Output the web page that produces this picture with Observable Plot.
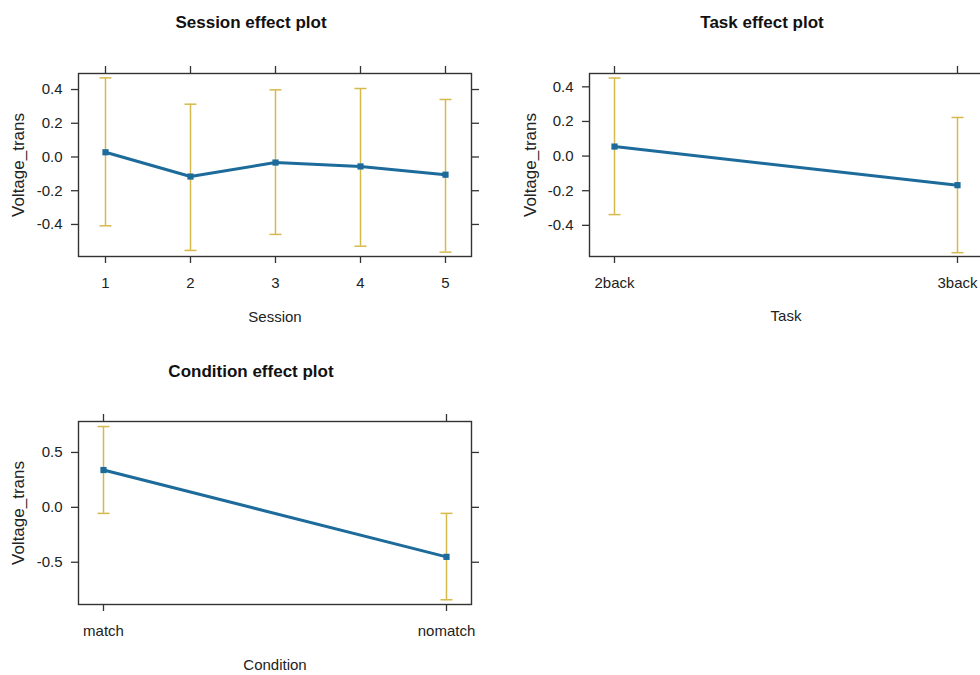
<!DOCTYPE html>
<html>
<head>
<meta charset="utf-8">
<script src="https://cdn.jsdelivr.net/npm/d3@7"></script>
<script src="https://cdn.jsdelivr.net/npm/@observablehq/plot@0.6"></script>
<style>
  html, body { margin: 0; padding: 0; overflow: hidden; background: #fff; }
  #root { position: relative; width: 980px; height: 675px; overflow: hidden; background: #fff;
          font-family: "Liberation Sans", Arial, sans-serif; color: #222; }
  .title { position: absolute; transform: translate(-50%, -50%); font-weight: bold; font-size: 17px;
           white-space: nowrap; color: #111; }
  .panel { position: absolute; }
</style>
</head>
<body>
<div id="root"></div>
<script>
// Effect estimates with lower/upper confidence limits, per factor
const sessionLevels = ["1", "2", "3", "4", "5"];
const sessionEst    = [0.028, -0.116, -0.033, -0.056, -0.105];
const sessionLower  = [-0.408, -0.554, -0.459, -0.529, -0.564];
const sessionUpper  = [0.469, 0.313, 0.398, 0.406, 0.341];

const taskLevels = ["2back", "3back"];
const taskEst    = [0.055, -0.168];
const taskLower  = [-0.338, -0.558];
const taskUpper  = [0.451, 0.223];

const conditionLevels = ["match", "nomatch"];
const conditionEst    = [0.34, -0.451];
const conditionLower  = [-0.055, -0.842];
const conditionUpper  = [0.736, -0.055];

const sessionTicks   = [-0.4, -0.2, 0, 0.2, 0.4];
const taskTicks      = [-0.4, -0.2, 0, 0.2, 0.4];
const conditionTicks = [-0.5, 0, 0.5];

const lineColor = "#1d6b9b";
const ciColor = "#d6b94c";
const frameColor = "#333";
const fontFamily = "'Liberation Sans', Arial, sans-serif";

// horizontal bar used as the cap of each confidence interval
const capSymbol = {
  draw(ctx, size) {
    const w = Math.sqrt(size / Math.PI);
    ctx.moveTo(-w, 0);
    ctx.lineTo(w, 0);
  }
};

const fmt = d => d.toFixed(1);
const blank = () => "";

function effectPanel({levels, est, lower, upper, yDomain, yTicks, xLabel,
                      width, height, margins, xLabelDy, yLabelDx}) {
  const rows = levels.map((level, i) => ({level, est: est[i], lo: lower[i], hi: upper[i]}));
  const tickStyle = {stroke: frameColor, strokeWidth: 1.3, label: null, fontSize: 15, fill: "#222"};
  return Plot.plot({
    width, height,
    ...margins,
    style: {fontFamily, fontSize: "15px", color: "#222", background: "transparent"},
    x: {type: "point", domain: levels, padding: 0, inset: 25},
    y: {domain: yDomain},
    marks: [
      Plot.frame({stroke: frameColor, strokeWidth: 1.4}),
      Plot.axisY({...tickStyle, anchor: "left", ticks: yTicks, tickFormat: fmt, tickSize: 7, tickPadding: 9}),
      Plot.axisY({...tickStyle, anchor: "right", ticks: yTicks, tickFormat: blank, tickSize: 7}),
      Plot.axisX({...tickStyle, anchor: "bottom", ticks: levels, tickSize: 7, tickPadding: 14}),
      Plot.axisX({...tickStyle, anchor: "top", ticks: levels, tickFormat: blank, tickSize: 8}),
      Plot.ruleX(rows, {x: "level", y1: "lo", y2: "hi", stroke: ciColor, strokeWidth: 1.5}),
      Plot.dot(rows, {x: "level", y: "lo", symbol: capSymbol, r: 6, stroke: ciColor, strokeWidth: 1.5, fill: "none"}),
      Plot.dot(rows, {x: "level", y: "hi", symbol: capSymbol, r: 6, stroke: ciColor, strokeWidth: 1.5, fill: "none"}),
      Plot.line(rows, {x: "level", y: "est", stroke: lineColor, strokeWidth: 3}),
      Plot.dot(rows, {x: "level", y: "est", symbol: "square", r: 3.5, fill: lineColor}),
      Plot.text([xLabel], {frameAnchor: "bottom", dy: xLabelDy, lineAnchor: "middle", fontSize: 15, fill: "#222"}),
      Plot.text(["Voltage_trans"], {frameAnchor: "left", dx: yLabelDx, rotate: -90, textAnchor: "middle",
                                    lineAnchor: "middle", fontSize: 17, fill: "#222"})
    ]
  });
}

const root = document.getElementById("root");

function place(node, left, top) {
  node.classList.add("panel");
  node.style.left = left + "px";
  node.style.top = top + "px";
  root.appendChild(node);
}

function title(text, cx, cy) {
  const el = document.createElement("div");
  el.className = "title";
  el.textContent = text;
  el.style.left = cx + "px";
  el.style.top = cy + "px";
  root.appendChild(el);
}

place(effectPanel({
  levels: sessionLevels, est: sessionEst, lower: sessionLower, upper: sessionUpper,
  yDomain: [-0.59, 0.495], yTicks: sessionTicks, xLabel: "Session",
  width: 490, height: 300,
  margins: {marginTop: 33, marginBottom: 84, marginLeft: 78, marginRight: 19},
  xLabelDy: 61, yLabelDx: -60
}), 0, 40);

place(effectPanel({
  levels: taskLevels, est: taskEst, lower: taskLower, upper: taskUpper,
  yDomain: [-0.58, 0.477], yTicks: taskTicks, xLabel: "Task",
  width: 500, height: 300,
  margins: {marginTop: 33, marginBottom: 84, marginLeft: 99, marginRight: 8},
  xLabelDy: 60, yLabelDx: -59
}), 490, 40);

place(effectPanel({
  levels: conditionLevels, est: conditionEst, lower: conditionLower, upper: conditionUpper,
  yDomain: [-0.885, 0.782], yTicks: conditionTicks, xLabel: "Condition",
  width: 490, height: 285,
  margins: {marginTop: 31, marginBottom: 71, marginLeft: 78, marginRight: 19},
  xLabelDy: 61, yLabelDx: -60
}), 0, 390);

title("Session effect plot", 251, 23);
title("Task effect plot", 762, 23);
title("Condition effect plot", 251, 372);
</script>
</body>
</html>
